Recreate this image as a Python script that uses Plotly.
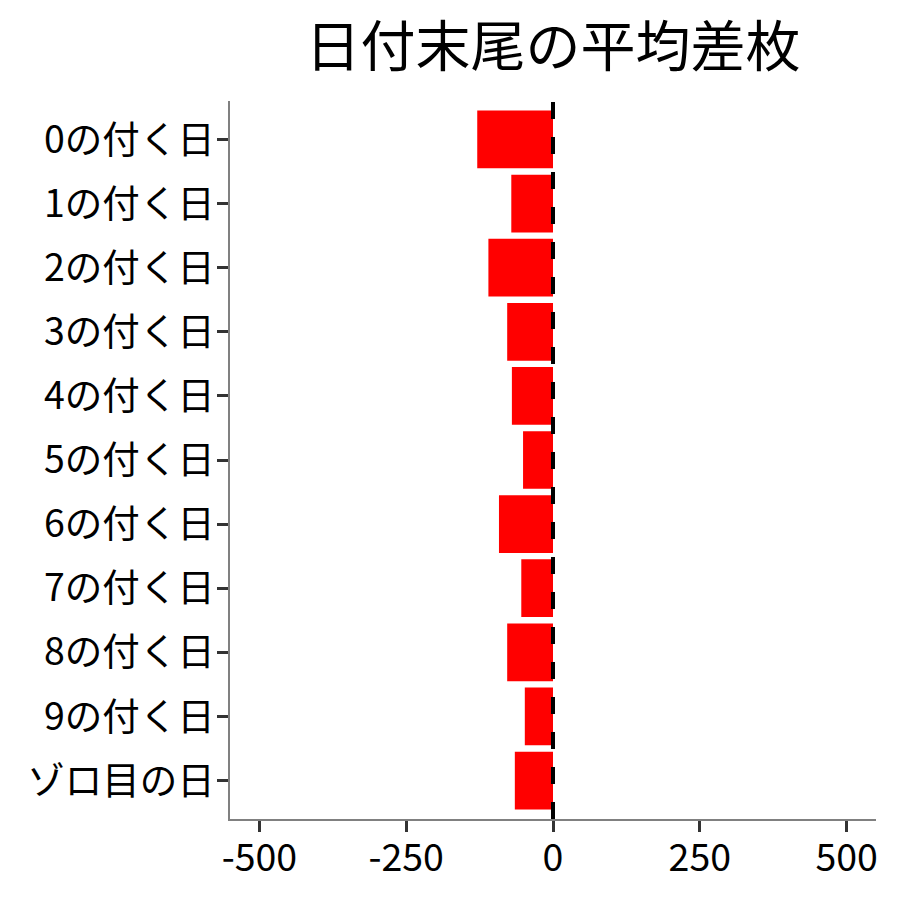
import plotly.graph_objects as go

# 日付末尾ごとの平均差枚
categories = ["0の付く日", "1の付く日", "2の付く日", "3の付く日", "4の付く日",
              "5の付く日", "6の付く日", "7の付く日", "8の付く日", "9の付く日", "ゾロ目の日"]
avg_diff = [-129, -71, -110, -78, -70, -51, -92, -54, -78, -48, -65]

x_ticks = [-500, -250, 0, 250, 500]

font_family = "Noto Sans CJK JP"

fig = go.Figure(go.Bar(
    x=avg_diff,
    y=categories,
    orientation="h",
    width=0.9,
    marker=dict(color="#FF0000", line=dict(width=0)),
))

# dashed zero line on top of the bars
fig.add_shape(type="line", xref="x", yref="paper", x0=0, x1=0, y0=0, y1=1,
              line=dict(color="black", width=4, dash="17px,18px"), layer="above")

fig.update_layout(
    width=900, height=900,
    plot_bgcolor="white", paper_bgcolor="white",
    margin=dict(l=222, r=32, t=93, b=89),
    font=dict(family=font_family, color="black"),
    title=dict(text="日付末尾の平均差枚", xref="paper", x=0.5, xanchor="center",
               y=0.957, yanchor="middle", font=dict(size=55, color="black")),
    showlegend=False,
    bargap=0.1,
)
fig.update_xaxes(
    range=[-550, 550], tickvals=x_ticks, ticktext=[str(v) for v in x_ticks],
    showgrid=False, zeroline=False,
    showline=True, linecolor="#808080", linewidth=1.5,
    ticks="outside", ticklen=11, tickwidth=3, tickcolor="#333333",
    tickfont=dict(size=37.5, color="black"), ticklabelstandoff=-6,
)
fig.update_yaxes(
    categoryorder="array", categoryarray=categories,
    range=[10.6, -0.6],
    showgrid=False, zeroline=False,
    showline=True, linecolor="#808080", linewidth=1.5,
    ticks="outside", ticklen=11, tickwidth=3, tickcolor="#333333",
    tickfont=dict(size=37.5, color="black"), ticklabelstandoff=-5,
)

fig.write_html("out.html")
